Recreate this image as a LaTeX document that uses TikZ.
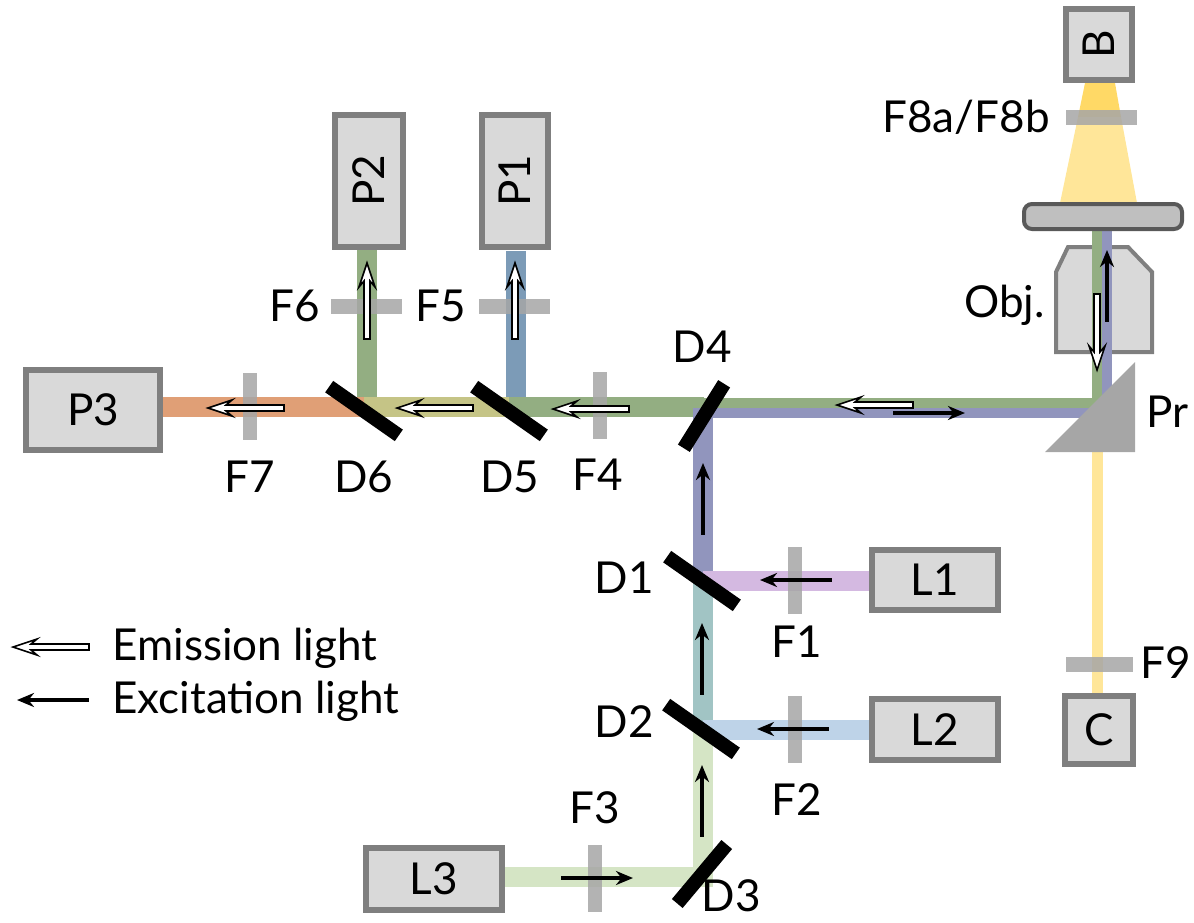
\documentclass[tikz,border=0pt]{standalone}
\usepackage{fontspec}
\setmainfont{Lato}
\usetikzlibrary{arrows.meta}
\definecolor{boxfill}{RGB}{217,217,217}
\definecolor{boxline}{RGB}{127,127,127}
\definecolor{filtgray}{RGB}{166,166,166}
\definecolor{slidefill}{RGB}{191,191,191}
\definecolor{slideline}{RGB}{89,89,89}
\definecolor{bgreen}{RGB}{147,174,130}
\definecolor{bblue}{RGB}{145,149,189}
\definecolor{bsteel}{RGB}{124,155,183}
\definecolor{borange}{RGB}{224,159,118}
\definecolor{bolive}{RGB}{197,196,134}
\definecolor{blav}{RGB}{212,185,225}
\definecolor{blight}{RGB}{190,211,232}
\definecolor{bpale}{RGB}{213,229,197}
\definecolor{bteal}{RGB}{161,196,196}
\definecolor{byellow}{RGB}{255,230,153}
\definecolor{bgold}{RGB}{255,217,102}

\begin{document}
\begin{tikzpicture}
[x=0.5pt,y=-0.5pt,%
  every node/.style={inner sep=0pt},%
  lbl/.style={text height=15.8pt,text depth=0pt},%
  box/.style={lbl,draw=boxline,fill=boxfill,line width=3pt},%
  filt/.style={fill=filtgray,opacity=0.85},%
  vfilt/.style={filt,minimum width=7pt,minimum height=33.5pt},%
  hfilt/.style={filt,minimum width=35.5pt,minimum height=7.5pt},%
  mirror/.style={fill=black,minimum width=42.5pt,minimum height=7pt},%
  beam/.style={line width=10pt},%
  halfbeam/.style={line width=5pt},%
  emis/.pic={\draw[line width=0.8pt,fill=white]
    (0,0) -- (24,-8) -- (18,-3) -- (76,-3) -- (76,3) -- (18,3) -- (24,8) -- cycle;},%
  exc/.pic={\draw[line width=1.6pt,{Stealth[length=8.5pt,width=7pt]}-] (0,0) -- (72,0);}]
\fontsize{22}{26}\selectfont
\useasboundingbox (0,0) rectangle (1194,922);

% objective and sample
\draw[draw=boxline,fill=boxfill,line width=2pt]
  (1068,247) -- (1128,247) -- (1152,272) -- (1152,352) -- (1056,352) -- (1056,272) -- cycle;
\fill[bgold] (1085,83) -- (1115,83) -- (1121,117) -- (1078,117) -- cycle;
\fill[byellow] (1078,117) -- (1121,117) -- (1137,203) -- (1060,203) -- cycle;
\draw[line width=5.5pt,byellow] (1097,452) -- (1097,693);

% emission beams
\draw[beam,borange] (163,407) -- (364,407);
\draw[beam,bolive] (364,407) -- (509,407);
\draw[beam,bgreen] (509,407) -- (704,407);
\draw[beam,bgreen] (367,250) -- (367,397);
\draw[beam,bsteel] (516,251) -- (516,397);
\draw[halfbeam,bgreen] (704,403) -- (1097,403) -- (1097,230);
\draw[halfbeam,bblue] (693,413) -- (1107,413) -- (1107,230);

% excitation beams
\draw[beam,bblue] (703,581) -- (703,413);
\draw[beam,bteal] (703,729) -- (703,581);
\draw[beam,bpale] (505,877) -- (703,877) -- (703,729);
\draw[beam,blav] (869,581) -- (703,581);
\draw[beam,blight] (869,730) -- (703,730);

\draw[fill=slidefill,draw=slideline,line width=2pt,rounded corners=4pt]
  (1024,204) rectangle (1182,229);
\fill[filtgray] (1045,452) -- (1135,452) -- (1135,362) -- cycle;

% filters
\node[vfilt] (F1) at (795,580.5) {};
\node[vfilt] (F2) at (795,729.5) {};
\node[vfilt] (F3) at (595,878.5) {};
\node[vfilt] (F4) at (600,405) {};
\node[vfilt] (F7) at (250,406.5) {};
\node[hfilt] (F5) at (514,306) {};
\node[hfilt] (F6) at (366,306) {};
\node[hfilt] (F8) at (1101,117) {};
\node[hfilt,minimum width=33.5pt] (F9) at (1099.5,664) {};

% dichroic mirrors
\node[mirror,rotate=-35] (D6) at (364,411) {};
\node[mirror,rotate=-35] (D5) at (509,411) {};
\node[mirror,rotate=58,minimum width=38pt] (D4) at (704,416) {};
\node[mirror,rotate=-35] (D1) at (702,581) {};
\node[mirror,rotate=-35] (D2) at (701,729) {};
\node[mirror,rotate=50,minimum width=38.5pt] (D3) at (702,874) {};

% detectors, lasers, camera
\node[box,minimum width=67pt,minimum height=40pt] (P3) at (93,410) {P3};
\node[box,rotate=90,minimum width=66pt,minimum height=34pt] (P2) at (369,181) {P2};
\node[box,rotate=90,minimum width=66pt,minimum height=33pt] (P1) at (515,181) {P1};
\node[box,rotate=90,minimum width=35.5pt,minimum height=33pt] (B) at (1099,44.5) {B};
\node[box,minimum width=34pt,minimum height=34pt] (C) at (1099,730) {C};
\node[box,minimum width=63pt,minimum height=30pt] (L1) at (935,580) {L1};
\node[box,minimum width=63pt,minimum height=30.5pt] (L2) at (935,729.5) {L2};
\node[box,minimum width=68pt,minimum height=31pt] (L3) at (434,879) {L3};

% arrows
\pic at (208,408) {emis};
\pic at (397,408) {emis};
\pic at (553,409) {emis};
\pic at (837,405) {emis};
\pic[rotate=-90] at (367,263) {emis};
\pic[rotate=-90] at (515,263) {emis};
\pic[rotate=90] at (1097,370) {emis};
\pic at (760,580) {exc};
\pic at (757,729) {exc};
\pic[rotate=180] at (633,878) {exc};
\pic[rotate=-90] at (702,765) {exc};
\pic[rotate=-90] at (702,623) {exc};
\pic[rotate=-90] at (703,463) {exc};
\pic[rotate=180] at (965,413) {exc};
\pic[rotate=-90] at (1107,250) {exc};

% labels
\node[lbl] (lF1) at (797,642) {F1};
\node[lbl] (lF2) at (797,800) {F2};
\node[lbl] (lF3) at (595,808) {F3};
\node[lbl] (lF4) at (598,475) {F4};
\node[lbl] (lF7) at (250,477) {F7};
\node[lbl] (lD6) at (364,477) {D6};
\node[lbl] (lD5) at (510,477) {D5};
\node[lbl] (lD4) at (702,347) {D4};
\node[lbl,anchor=east] (lD1) at (654,578) {D1};
\node[lbl,anchor=east] (lD2) at (654,722) {D2};
\node[lbl] (lD3) at (731,896) {D3};
\node[lbl,anchor=east] (lF6) at (320,306) {F6};
\node[lbl,anchor=east] (lF5) at (466,306) {F5};
\node[lbl,anchor=east] (lF8) at (1050,117) {F8a/F8b};
\node[lbl,anchor=east] (lObj) at (1045,302) {Obj.};
\node[lbl,anchor=west] (lPr) at (1146,412) {Pr};
\node[lbl,anchor=east] (lF9) at (1191,663) {F9};

% legend
\pic at (13,647) {emis};
\pic at (17,700) {exc};
\node[lbl,anchor=west] (lem) at (112,645) {Emission light};
\node[lbl,anchor=west] (lex) at (112,698) {Excitation light};
\end{tikzpicture}
\end{document}
